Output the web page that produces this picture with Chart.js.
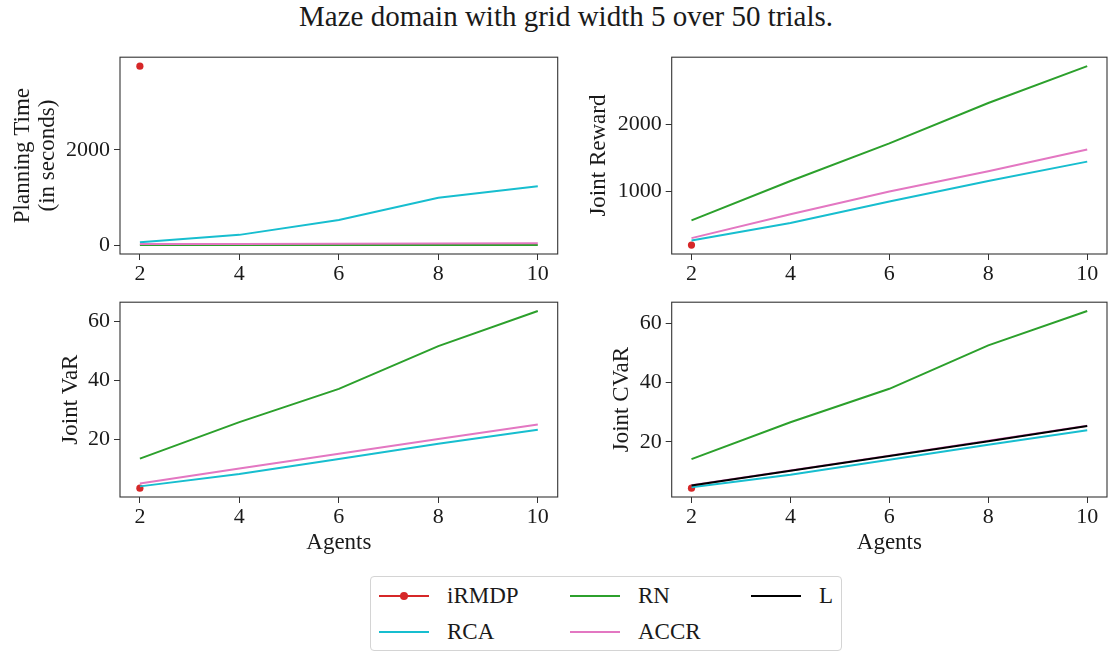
<!DOCTYPE html>
<html>
<head>
<meta charset="utf-8">
<script src="https://cdn.jsdelivr.net/npm/chart.js@4.4.1/dist/chart.umd.min.js"></script>
<style>
  body { margin: 0; background: #fff; font-family: 'Liberation Serif', serif; color: #1a1a1a; }
  #fig { position: relative; width: 1111px; height: 653px; overflow: hidden; }
  #fig canvas { position: absolute; }
  #title { position: absolute; top: 0; left: 216px; width: 700px; text-align: center; font-size: 29px; }
  #legend {
    position: absolute; left: 370px; top: 576px; width: 472px; height: 75px; box-sizing: border-box;
    border: 1px solid #d4d4d4; border-radius: 4px;
    display: grid; grid-template-columns: 191px 181px auto; grid-auto-rows: 36px; padding: 0 0 0 8px; align-content: center;
    font-size: 23px;
  }
  .item { display: flex; align-items: center; }
  .handle { position: relative; width: 50px; height: 2px; margin-right: 18px; }
  .handle i { position: absolute; left: 21px; top: -3px; width: 8px; height: 8px; border-radius: 50%; }
</style>
</head>
<body>
<div id="fig">
  <div id="title">Maze domain with grid width 5 over 50 trials.</div>
  <canvas id="time" width="570" height="250" style="left:0;top:40px"></canvas>
  <canvas id="reward" width="536" height="250" style="left:575px;top:40px"></canvas>
  <canvas id="var" width="570" height="280" style="left:0;top:285px"></canvas>
  <canvas id="cvar" width="536" height="280" style="left:575px;top:285px"></canvas>
  <div id="legend"></div>
</div>
<script>
const agents = [2, 4, 6, 8, 10];
const xTicks = [2, 4, 6, 8, 10];

// planning time in seconds
const timeIRMDP = [3760];
const timeRCA = [62, 216, 527, 996, 1239];
const timeRN = [2, 2, 3, 3, 4];
const timeACCR = [22, 26, 30, 34, 40];
const timeTicks = [0, 2000];

// joint reward
const rewardIRMDP = [200];
const rewardRCA = [269, 527, 849, 1152, 1441];
const rewardRN = [567, 1152, 1713, 2313, 2861];
const rewardACCR = [303, 659, 996, 1299, 1621];
const rewardTicks = [1000, 2000];

// joint VaR
const varIRMDP = [3.5];
const varRCA = [4.1, 8.3, 13.4, 18.6, 23.3];
const varRN = [13.5, 25.9, 37.2, 51.7, 63.6];
const varACCR = [5.1, 10.2, 15.2, 20.2, 25.1];
const varTicks = [20, 40, 60];

// joint CVaR
const cvarIRMDP = [4.3];
const cvarRCA = [4.6, 8.8, 13.9, 19.0, 23.9];
const cvarRN = [14.1, 26.6, 37.9, 52.6, 64.2];
const cvarACCR = [5.3, 10.3, 15.3, 20.3, 25.4];
const cvarL = [5.2, 10.2, 15.2, 20.2, 25.3];
const cvarTicks = [20, 40, 60];

const methods = ['iRMDP', 'RCA', 'RN', 'ACCR', 'L'];
const colors = { iRMDP: '#d62728', RCA: '#17becf', RN: '#2ca02c', ACCR: '#e377c2', L: '#000000' };

const FONT = "'Liberation Serif', serif";
const INK = '#1a1a1a';

// matplotlib-style 5% margins
function limits(vals) {
  const lo = Math.min(...vals), hi = Math.max(...vals), m = (hi - lo) * 0.05;
  return [lo - m, hi + m];
}

// full box around the axes
const frame = {
  id: 'frame',
  afterDatasetsDraw(chart) {
    const { ctx, chartArea: a } = chart;
    ctx.save();
    ctx.strokeStyle = '#333';
    ctx.lineWidth = 1.1;
    ctx.strokeRect(a.left, a.top, a.right - a.left, a.bottom - a.top);
    ctx.restore();
  }
};

function panel(id, series, opt) {
  const datasets = [];
  methods.forEach((m, i) => {
    const vals = series[m];
    if (!vals) return;
    const single = vals.length === 1;
    datasets.push({
      label: m,
      data: vals.map((v, j) => ({ x: agents[j], y: v })),
      borderColor: colors[m],
      backgroundColor: colors[m],
      borderWidth: 2,
      pointRadius: single ? 3.6 : 0,
      pointBorderWidth: 0,
      tension: 0,
      order: 10 - i
    });
  });

  const all = Object.values(series).flat();
  const [ymin, ymax] = limits(all);
  const [xmin, xmax] = limits(agents);
  const tickFont = { family: FONT, size: 22 };
  const labelFont = { family: FONT, size: 23, lineHeight: 1.1 };

  new Chart(document.getElementById(id), {
    type: 'line',
    data: { datasets },
    options: {
      responsive: false,
      animation: false,
      devicePixelRatio: 1,
      layout: { padding: { top: opt.top, right: opt.right, left: 0, bottom: 0 } },
      plugins: { legend: { display: false }, tooltip: { enabled: false } },
      scales: {
        x: {
          type: 'linear', min: xmin, max: xmax,
          afterBuildTicks: ax => { ax.ticks = xTicks.map(v => ({ value: v })); },
          afterFit: ax => { ax.height = opt.xHeight; },
          grid: { drawOnChartArea: false, drawTicks: true, tickLength: 6, tickColor: '#333' },
          border: { display: false },
          ticks: { font: tickFont, color: INK, padding: 1, maxRotation: 0, callback: v => String(v) },
          title: { display: !!opt.xTitle, text: opt.xTitle, font: labelFont, color: INK, padding: { top: 0, bottom: 9 } }
        },
        y: {
          type: 'linear', min: ymin, max: ymax,
          afterBuildTicks: ax => { ax.ticks = opt.yTicks.map(v => ({ value: v })); },
          afterFit: ax => { ax.width = opt.yWidth; },
          grid: { drawOnChartArea: false, drawTicks: true, tickLength: 6, tickColor: '#333' },
          border: { display: false },
          ticks: { font: tickFont, color: INK, padding: 4, callback: v => String(v) },
          title: { display: true, text: opt.yTitle, font: labelFont, color: INK, padding: { top: opt.yTitlePad, bottom: 0 } }
        }
      }
    },
    plugins: [frame]
  });
}

panel('time', { iRMDP: timeIRMDP, RCA: timeRCA, RN: timeRN, ACCR: timeACCR }, {
  yTicks: timeTicks, yTitle: ['Planning Time', '(in seconds)'], yTitlePad: 10,
  top: 14.7, right: 12.3, yWidth: 120, xHeight: 36
});
panel('reward', { iRMDP: rewardIRMDP, RCA: rewardRCA, RN: rewardRN, ACCR: rewardACCR }, {
  yTicks: rewardTicks, yTitle: 'Joint Reward', yTitlePad: 11.3,
  top: 14.7, right: 2, yWidth: 96.7, xHeight: 36
});
panel('var', { iRMDP: varIRMDP, RCA: varRCA, RN: varRN, ACCR: varACCR }, {
  yTicks: varTicks, yTitle: 'Joint VaR', yTitlePad: 58.3,
  top: 14, right: 12.3, yWidth: 120, xHeight: 68, xTitle: 'Agents'
});
panel('cvar', { iRMDP: cvarIRMDP, RCA: cvarRCA, RN: cvarRN, ACCR: cvarACCR, L: cvarL }, {
  yTicks: cvarTicks, yTitle: 'Joint CVaR', yTitlePad: 34.3,
  top: 14, right: 2, yWidth: 96.7, xHeight: 68, xTitle: 'Agents'
});

// legend, three columns filled top to bottom
const legend = document.getElementById('legend');
const legendOrder = ['iRMDP', 'RN', 'L', 'RCA', 'ACCR'];
legendOrder.forEach(m => {
  const marker = m === 'iRMDP' ? `<i style="background:${colors[m]}"></i>` : '';
  legend.innerHTML += `
    <div class="item">
      <span class="handle" style="background:${colors[m]}">${marker}</span>
      <span>${m}</span>
    </div>`;
});
</script>
</body>
</html>
